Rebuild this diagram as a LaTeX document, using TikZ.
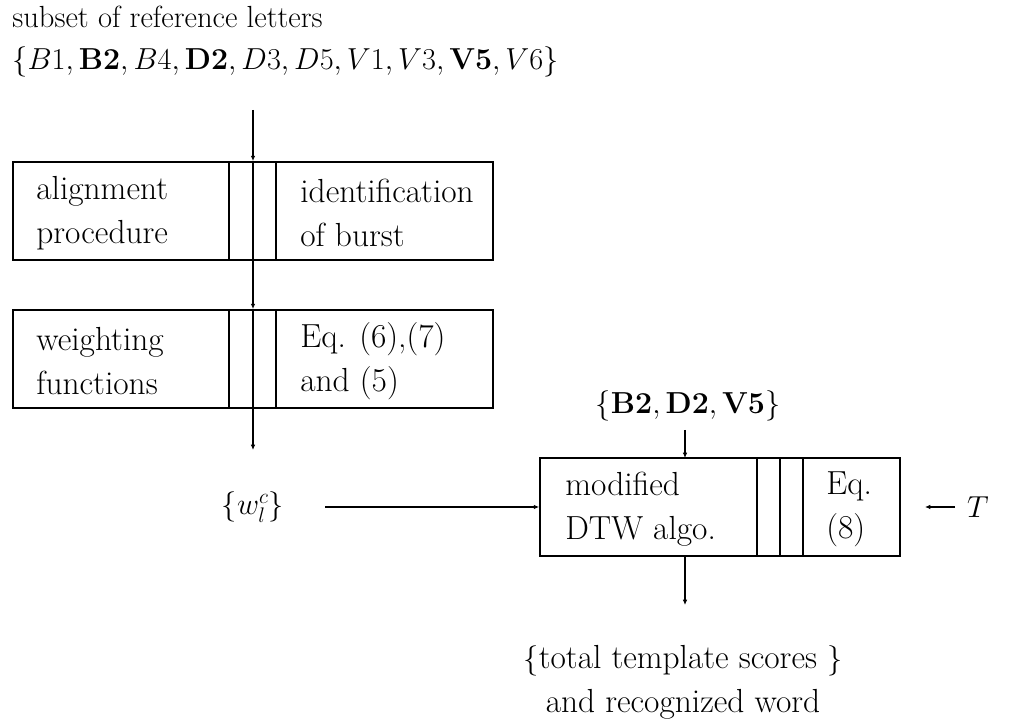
\documentclass[tikz,border=0pt]{standalone}
\usepackage{amsmath}
\usetikzlibrary{arrows.meta,positioning}
\begin{document}
\begin{tikzpicture}[x=0.02cm,y=-0.02cm,
  font=\fontsize{19}{25}\selectfont,
  blk/.style={draw, line width=1pt, minimum width=#1, minimum height=1.96cm, inner sep=0},
  txt/.style={anchor=west, align=left, inner sep=0},
  mth/.style={font=\fontsize{16.6}{20}\selectfont},
  flow/.style={line width=1pt, -{Latex[length=3pt,width=2.6pt]}}]
\useasboundingbox (0,0) rectangle (1019,722);

% input set
\node[anchor=base west, inner sep=0, font=\fontsize{17.4}{20}\selectfont] (sub) at (12,28) {subset of reference letters};
\node[anchor=base west, inner sep=0, mth] (set) at (12,70) {$\{B1,\mathbf{B2},B4,\mathbf{D2},D3,D5,V1,V3,\mathbf{V5},V6\}$};

% left column of boxes
\node[blk=9.6cm] (align) at (253,211) {};
\node[blk=9.6cm] (weight) at (253,359) {};
\foreach \y/\h in {162/260, 310/408}
  \foreach \x in {229,253,276}
    \draw[line width=1pt] (\x,\y) -- (\x,\h);

\node[txt] (alignL) at (36,213) {alignment\\procedure};
\node[txt] (alignR) at (300,213) {identification\\of burst};
\node[txt] (weightL) at (36,361) {weighting\\functions};
\node[txt] (weightR) at (300,361) {Eq. (6),(7)\\and (5)};

\coordinate (top) at (253,110);
\coordinate (down) at (253,450);
\draw[flow] (top) -- (align.north);
\draw[flow] (align.south) -- (weight.north);
\draw[flow] (weight.south) -- (down);

% DTW box
\node[blk=7.2cm] (dtw) at (720,507) {};
\foreach \x in {757,780,803}
  \draw[line width=1pt] (\x,458) -- (\x,556);
\node[txt] (dtwL) at (565,509) {modified\\DTW algo.};
\node[txt] (dtwR) at (826,509) {Eq.\\(8)};

\node[mth] (wlc) at (253,507) {$\{w_l^c\}$};
\coordinate (win) at (325,507);
\draw[flow] (win) -- (dtw.west);

\node[mth] (T) at (978,507) {$T$};
\coordinate (tin) at (955,507);
\coordinate (tend) at (925,507);
\draw[flow] (tin) -- (tend);

\node[mth] (sel) at (688,406) {$\{\mathbf{B2},\mathbf{D2},\mathbf{V5}\}$};
\coordinate (selout) at (685,430);
\coordinate (dtwin) at (685,458);
\draw[flow] (selout) -- (dtwin);

\coordinate (dtwout) at (685,556);
\coordinate (resin) at (685,605);
\draw[flow] (dtwout) -- (resin);
\node[align=center] (res) at (683,682) {$\{$total template scores $\}$\\and recognized word};
\end{tikzpicture}
\end{document}
